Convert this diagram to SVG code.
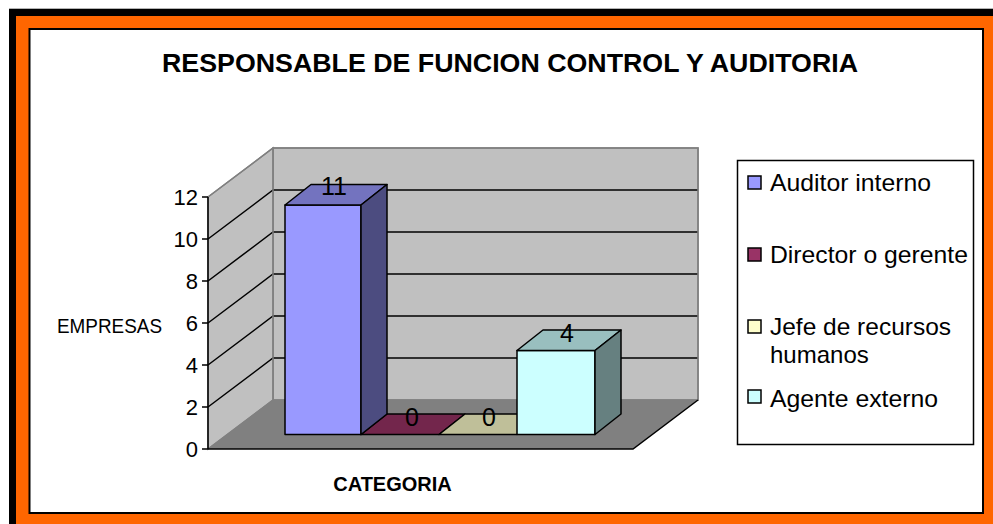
<svg xmlns="http://www.w3.org/2000/svg" width="993" height="524" viewBox="0 0 993 524">
<style>
text{font-family:"Liberation Sans",Arial,sans-serif;fill:#000}
.wall{fill:#C0C0C0;stroke:#808080;stroke-width:1.5}
.grid{stroke:#000;stroke-width:1.5;fill:none}
.edge{stroke:#808080;stroke-width:1.5;fill:none}
.ax{stroke:#000;stroke-width:1.5;fill:none}
.bar{stroke:#000;stroke-width:1.5;stroke-linejoin:round}
.tick{font-size:22px;text-anchor:end}
.val{font-size:25px;text-anchor:middle}
.leg{font-size:24px}
.sw{stroke:#000;stroke-width:1.5}
</style>
<g id="frame">
<rect x="0" y="0" width="993" height="524" fill="#fff"/>
<line x1="9" y1="8.5" x2="993" y2="8.5" stroke="#b4b4b4" stroke-width="1"/>
<rect x="9" y="9" width="990" height="520" fill="#000"/>
<rect x="16" y="16" width="990" height="520" fill="#FF6600"/>
<rect x="29.5" y="29" width="953.5" height="484" fill="#fff" stroke="#000" stroke-width="2"/>
</g>
<g id="title">
<text x="510" y="72" font-size="26" font-weight="bold" text-anchor="middle" textLength="696" lengthAdjust="spacingAndGlyphs">RESPONSABLE DE FUNCION CONTROL Y AUDITORIA</text>
</g>
<g id="plot-area">
<polygon class="wall" points="273,148 698,148 698,400 273,400"/>
<polygon class="wall" points="208,197 273,148 273,400 208,449"/>
<polygon points="208,449 273,400 698,400 633,449" fill="#808080"/>
<g class="grid">
<path d="M208,407 L273,358 H698 M208,365 L273,316 H698 M208,323 L273,274 H698 M208,281 L273,232 H698 M208,239 L273,190 H698"/>
</g>
<path class="edge" d="M208,197 L273,148 H698 V400 H273 V148 M273,400 L208,449"/>
<path class="ax" d="M208,197 V449 H633 L698,400 M202,197 H208 M202,239 H208 M202,281 H208 M202,323 H208 M202,365 H208 M202,407 H208 M202,449 H208"/>
</g>
<g id="axis-labels">
<text class="tick" x="198" y="205">12</text>
<text class="tick" x="198" y="247">10</text>
<text class="tick" x="198" y="289">8</text>
<text class="tick" x="198" y="331">6</text>
<text class="tick" x="198" y="373">4</text>
<text class="tick" x="198" y="415">2</text>
<text class="tick" x="198" y="457">0</text>
<text x="57" y="333" font-size="21" textLength="105" lengthAdjust="spacingAndGlyphs">EMPRESAS</text>
<text x="392.5" y="491" font-size="20" font-weight="bold" text-anchor="middle">CATEGORIA</text>
</g>
<g id="bar-director">
<polygon class="bar" points="361,434.5 439,434.5 465,414 387,414" fill="#73264C"/>
</g>
<g id="bar-jefe">
<polygon class="bar" points="439,434.5 517,434.5 543,414 465,414" fill="#BFBF99"/>
</g>
<g id="bar-auditor">
<polygon class="bar" points="285,205 361,205 361,434.5 285,434.5" fill="#9999FF"/>
<polygon class="bar" points="285,205 311,184.5 387,184.5 361,205" fill="#7373BF"/>
<polygon class="bar" points="361,205 387,184.5 387,414 361,434.5" fill="#4C4C80"/>
</g>
<g id="bar-agente">
<polygon class="bar" points="517,350.5 595,350.5 595,434.5 517,434.5" fill="#CCFFFF"/>
<polygon class="bar" points="517,350.5 543,330 621,330 595,350.5" fill="#99BFBF"/>
<polygon class="bar" points="595,350.5 621,330 621,414 595,434.5" fill="#668080"/>
</g>
<g id="value-labels">
<text class="val" x="334" y="195">11</text>
<text class="val" x="412" y="426">0</text>
<text class="val" x="489" y="426">0</text>
<text class="val" x="567" y="342">4</text>
</g>
<g id="legend">
<rect x="737.5" y="160.5" width="236" height="284" fill="#fff" stroke="#000" stroke-width="1.5"/>
<g id="legend-auditor">
<rect class="sw" x="748" y="176" width="13" height="13" fill="#9999FF"/>
<text class="leg" x="770" y="191" textLength="161" lengthAdjust="spacingAndGlyphs">Auditor interno</text>
</g>
<g id="legend-director">
<rect class="sw" x="748" y="248" width="13" height="13" fill="#993366"/>
<text class="leg" x="770" y="263" textLength="198" lengthAdjust="spacingAndGlyphs">Director o gerente</text>
</g>
<g id="legend-jefe">
<rect class="sw" x="748" y="320" width="13" height="13" fill="#FFFFCC"/>
<text class="leg" x="770" y="335" textLength="181" lengthAdjust="spacingAndGlyphs">Jefe de recursos</text>
<text class="leg" x="770" y="363">humanos</text>
</g>
<g id="legend-agente">
<rect class="sw" x="748" y="390" width="13" height="13" fill="#CCFFFF"/>
<text class="leg" x="770" y="407" textLength="168" lengthAdjust="spacingAndGlyphs">Agente externo</text>
</g>
</g>
</svg>
